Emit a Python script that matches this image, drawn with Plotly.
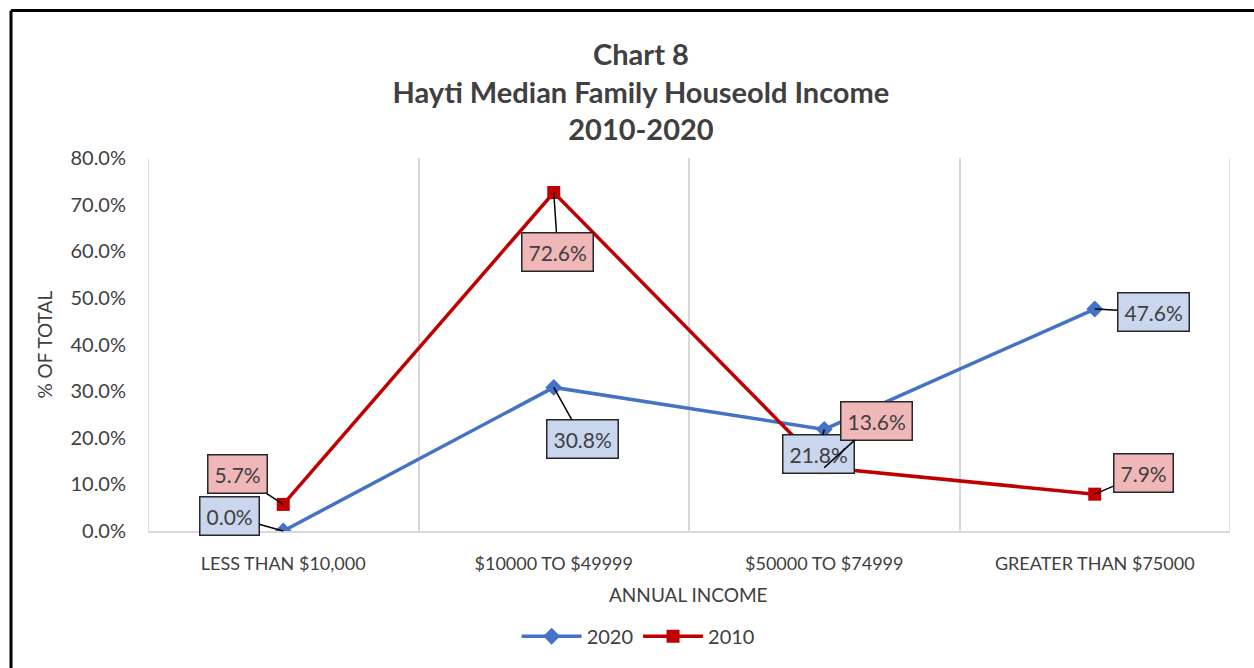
import plotly.graph_objects as go

categories = ["LESS THAN $10,000", "$10000 TO $49999", "$50000 TO $74999", "GREATER THAN $75000"]
values_2020 = [0.0, 30.8, 21.8, 47.6]
values_2010 = [5.7, 72.6, 13.6, 7.9]
y_ticks = [0, 10, 20, 30, 40, 50, 60, 70, 80]

# label offsets (pixels) for callouts
off_2020 = [(-54, -15), (29, 52), (-6, 25), (59, 3)]
off_2010 = [(-46, -30), (4, 59), (52, -47), (49, -21)]

FONT = "Lato, 'Open Sans', sans-serif"
TXT = "#404040"
BLUE = "#4472C4"
RED = "#C00000"
GRID = "#D9D9D9"

x = list(range(len(categories)))

fig = go.Figure()
fig.add_trace(go.Scatter(
    x=x, y=values_2020, name="2020", mode="lines+markers",
    line=dict(color=BLUE, width=3.5),
    marker=dict(symbol="diamond", size=13, color=BLUE),
))
fig.add_trace(go.Scatter(
    x=x, y=values_2010, name="2010", mode="lines+markers",
    line=dict(color=RED, width=3.5),
    marker=dict(symbol="square", size=13, color=RED),
))

annotations = []
for i, v in enumerate(values_2020):
    annotations.append(dict(
        x=x[i], y=v, xref="x", yref="y", text=f"{v:.1f}%",
        showarrow=True, arrowhead=0, arrowwidth=1.5, arrowcolor="black",
        ax=off_2020[i][0], ay=off_2020[i][1], standoff=0,
        bgcolor="#C9D6EE", bordercolor="#262626", borderwidth=1.5, borderpad=6,
        font=dict(family=FONT, size=21, color=TXT),
    ))
for i, v in enumerate(values_2010):
    annotations.append(dict(
        x=x[i], y=v, xref="x", yref="y", text=f"{v:.1f}%",
        showarrow=True, arrowhead=0, arrowwidth=1.5, arrowcolor="black",
        ax=off_2010[i][0], ay=off_2010[i][1], standoff=0,
        bgcolor="#EFB7B7", bordercolor="#262626", borderwidth=1.5, borderpad=6,
        font=dict(family=FONT, size=21, color=TXT),
    ))

# axis titles
annotations.append(dict(
    text="% OF TOTAL", xref="paper", yref="paper", x=-0.0952, y=0.5,
    xanchor="center", yanchor="middle", textangle=-90, showarrow=False,
    font=dict(family=FONT, size=19, color=TXT),
))
annotations.append(dict(
    text="ANNUAL INCOME", xref="paper", yref="paper", x=0.4995, y=-(599 - 535) / 377,
    xanchor="center", yanchor="middle", showarrow=False,
    font=dict(family=FONT, size=19, color=TXT),
))

fig.update_layout(
    width=1254, height=668, autosize=False,
    margin=dict(l=148, r=24, t=158, b=133),
    paper_bgcolor="white", plot_bgcolor="white",
    font=dict(family=FONT, color=TXT),
    title=dict(
        text="Chart 8<br>Hayti Median Family Houseold Income<br>2010-2020",
        x=0.4556, xref="paper", xanchor="center",
        y=1 - 65 / 668, yref="container", yanchor="top",
        font=dict(family=FONT, size=29, color=TXT, weight="bold"),
    ),
    xaxis=dict(
        range=[-0.5, 3.5], tickvals=x, ticktext=categories,
        tickfont=dict(family=FONT, size=18, color=TXT),
        showgrid=False, zeroline=False, automargin=False,
        showline=True, linecolor=GRID, linewidth=1.5,
        ticks="", ticklabelstandoff=16,
        minor=dict(tick0=-0.5, dtick=1, showgrid=True, gridcolor=GRID, gridwidth=1.5),
    ),
    yaxis=dict(
        range=[0, 80], tickvals=y_ticks,
        ticktext=[f"{t:.1f}%" for t in y_ticks],
        tickfont=dict(family=FONT, size=20, color=TXT),
        showgrid=False, zeroline=False, showline=False, ticks="",
        ticklabelstandoff=21, automargin=False,
    ),
    legend=dict(
        orientation="h", x=0.453, xanchor="center", y=-0.282, yanchor="middle",
        font=dict(family=FONT, size=20, color=TXT), itemwidth=60,
    ),
    annotations=annotations,
    shapes=[
        dict(type="line", xref="x", yref="paper", x0=-0.5, x1=-0.5, y0=0, y1=1,
             layer="below", line=dict(color=GRID, width=1.5)),
        dict(type="line", xref="x", yref="paper", x0=3.5, x1=3.5, y0=0, y1=1,
             layer="below", line=dict(color=GRID, width=1.5)),
        dict(type="line", xref="paper", yref="paper",
             x0=-0.1266, x1=-0.1266, y0=1.3952, y1=-0.4,
             line=dict(color="black", width=3)),
        dict(type="line", xref="paper", yref="paper",
             x0=-0.1266, x1=1.05, y0=1.3952, y1=1.3952,
             line=dict(color="black", width=3)),
    ],
)

fig.write_html("out.html", config={"displayModeBar": False},
               post_script="document.body.style.margin='0';")
